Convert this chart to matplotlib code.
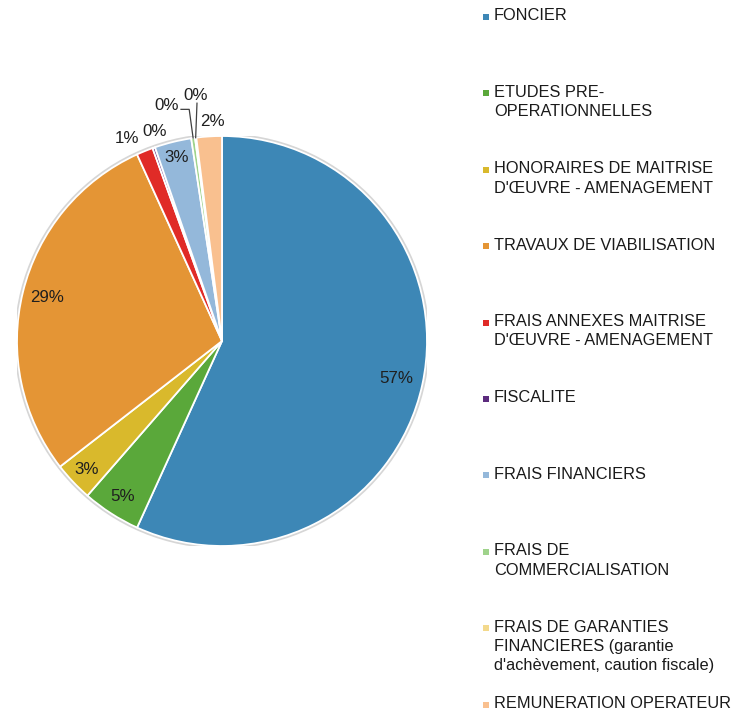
import numpy as np
import matplotlib
matplotlib.use("Agg")
from matplotlib import pyplot as plt
from matplotlib.patches import Circle, Rectangle

plt.rcParams["font.family"] = ["Liberation Sans", "DejaVu Sans"]

categories = [
    "FONCIER",
    "ETUDES PRE-\nOPERATIONNELLES",
    "HONORAIRES DE MAITRISE\nD'ŒUVRE - AMENAGEMENT",
    "TRAVAUX DE VIABILISATION",
    "FRAIS ANNEXES MAITRISE\nD'ŒUVRE - AMENAGEMENT",
    "FISCALITE",
    "FRAIS FINANCIERS",
    "FRAIS DE\nCOMMERCIALISATION",
    "FRAIS DE GARANTIES\nFINANCIERES (garantie\nd'achèvement, caution fiscale)",
    "REMUNERATION OPERATEUR",
]
shares = [56.8, 4.6, 3.1, 28.7, 1.3, 0.2, 2.9, 0.3, 0.1, 2.0]
colors = [
    "#3d87b6", "#5aa83a", "#d9b92c", "#e49535", "#e02b27",
    "#5c2b7e", "#94b8da", "#9fd38b", "#f3d98c", "#f9c08f",
]

W, H = 741, 712
fig = plt.figure(figsize=(W / 100, H / 100), dpi=100)

# pie area: centre (222, 341) px, radius 205 px
cx, cy, R = 222, 341, 205
ax = fig.add_axes([(cx - R) / W, (H - cy - R) / H, 2 * R / W, 2 * R / H])

ax.add_patch(Circle((0, 0), 1.006, facecolor="none", edgecolor="#d6d6d6", lw=2, zorder=0))
wedges, _ = ax.pie(
    shares,
    colors=colors,
    startangle=90,
    counterclock=False,
    radius=1,
    wedgeprops=dict(edgecolor="white", linewidth=1.3),
)
ax.set_xlim(-1, 1)
ax.set_ylim(-1, 1)
ax.set_aspect("equal")
ax.axis("off")

# inside labels sit on the mid-angle at this radius
label_r = [0.87, 0.90, 0.91, 0.88, None, None, 0.92, None, None, None]
# outside labels: explicit spot (axes data units) + optional leader elbows
outside = {
    4: ((-0.463, 0.99), None),
    5: ((-0.327, 1.02), None),
    7: ((-0.27, 1.151), [(-0.20, 1.13), (-0.16, 1.13)]),
    8: ((-0.13, 1.20), [(-0.122, 1.16)]),
    9: ((-0.049, 1.073), None),
}

total = sum(shares)
for i, w in enumerate(wedges):
    mid = np.deg2rad((w.theta1 + w.theta2) / 2)
    txt = f"{round(shares[i] / total * 100):.0f}%"
    if i in outside:
        (lx, ly), pts = outside[i]
        if pts:
            ex, ey = np.cos(mid), np.sin(mid)
            xs = [p[0] for p in pts] + [ex]
            ys = [p[1] for p in pts] + [ey]
            ax.plot(xs, ys, color="#404040", lw=0.9, clip_on=False)
    else:
        r = label_r[i]
        lx, ly = r * np.cos(mid), r * np.sin(mid)
    ax.text(lx, ly, txt, ha="center", va="center", fontsize=12.2,
            color="#1f1f1f", clip_on=False)

# legend, drawn by hand: first line of each entry evenly spaced
top_px, step_px = 17, 76.4
for i, (name, col) in enumerate(zip(categories, colors)):
    y = H - (top_px + i * step_px)
    fig.patches.append(Rectangle((483 / W, (y - 3) / H), 6 / W, 6 / H,
                                 transform=fig.transFigure, facecolor=col,
                                 edgecolor="none"))
    fig.text(494 / W, (y + 8.5) / H, name, ha="left", va="top", fontsize=11.8,
             color="#1a1a1a", linespacing=1.36)

fig.savefig("out.png", dpi=100, facecolor="white")
